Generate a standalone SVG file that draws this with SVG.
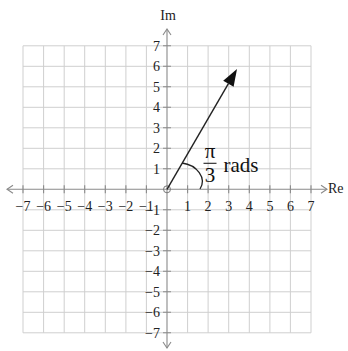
<svg xmlns="http://www.w3.org/2000/svg" width="348" height="351" viewBox="0 0 348 351">
<defs>
<style>
.grid{stroke:#cfcfcf;stroke-width:1;fill:none}
.axis{stroke:#8a8a8a;stroke-width:1.1;fill:none}
.lbl{font-family:"Liberation Serif","Times New Roman",serif;font-size:14px;fill:#222}
.ylbl{text-anchor:end}
.xlbl{text-anchor:middle}
.big{font-family:"Liberation Serif","Times New Roman",serif;font-size:21px;fill:#111}
</style>
</defs>
<rect width="348" height="351" fill="#ffffff"/>
<g id="grid">
<path class="grid" d="M23,45.8V332.8 M43.6,45.8V332.8 M64.2,45.8V332.8 M84.7,45.8V332.8 M105.3,45.8V332.8 M125.9,45.8V332.8 M146.4,45.8V332.8 M187.6,45.8V332.8 M208.1,45.8V332.8 M228.7,45.8V332.8 M249.3,45.8V332.8 M269.9,45.8V332.8 M290.4,45.8V332.8 M311,45.8V332.8 M23,45.8H311 M23,66.3H311 M23,86.8H311 M23,107.3H311 M23,127.8H311 M23,148.3H311 M23,168.8H311 M23,209.8H311 M23,230.3H311 M23,250.8H311 M23,271.3H311 M23,291.8H311 M23,312.3H311 M23,332.8H311"/>
</g>
<g id="axes">
<path class="axis" d="M7,189.3H327 M167,29V348"/>
<path class="axis" d="M13,185.3L7,189.3L13,193.3 M321,185.3L327,189.3L321,193.3 M163,35L167,29L171,35 M163,342L167,348L171,342"/>
<path class="axis" d="M163,45.8h8 M163,66.3h8 M163,86.8h8 M163,107.3h8 M163,127.8h8 M163,148.3h8 M163,168.8h8 M163,209.8h8 M163,230.3h8 M163,250.8h8 M163,271.3h8 M163,291.8h8 M163,312.3h8 M163,332.8h8 M23,185.3v8 M43.6,185.3v8 M64.2,185.3v8 M84.7,185.3v8 M105.3,185.3v8 M125.9,185.3v8 M146.4,185.3v8 M187.6,185.3v8 M208.1,185.3v8 M228.7,185.3v8 M249.3,185.3v8 M269.9,185.3v8 M290.4,185.3v8 M311,185.3v8"/>
<text class="lbl xlbl" x="168" y="20">Im</text>
<text class="lbl" x="328" y="193">Re</text>
</g>
<g id="y-labels" class="lbl ylbl">
<text x="160" y="50.8">7</text>
<text x="160" y="71.3">6</text>
<text x="160" y="91.8">5</text>
<text x="160" y="112.3">4</text>
<text x="160" y="132.8">3</text>
<text x="160" y="153.3">2</text>
<text x="160" y="173.8">1</text>
<text x="160" y="214.8">−1</text>
<text x="160" y="235.3">−2</text>
<text x="160" y="255.8">−3</text>
<text x="160" y="276.3">−4</text>
<text x="160" y="296.8">−5</text>
<text x="160" y="317.3">−6</text>
<text x="160" y="337.8">−7</text>
</g>
<g id="x-labels" class="lbl xlbl">
<text x="23" y="211">−7</text>
<text x="43.6" y="211">−6</text>
<text x="64.2" y="211">−5</text>
<text x="84.7" y="211">−4</text>
<text x="105.3" y="211">−3</text>
<text x="125.9" y="211">−2</text>
<text x="146.4" y="211">−1</text>
<text x="187.6" y="211">1</text>
<text x="208.1" y="211">2</text>
<text x="228.7" y="211">3</text>
<text x="249.3" y="211">4</text>
<text x="269.9" y="211">5</text>
<text x="290.4" y="211">6</text>
<text x="311" y="211">7</text>
</g>
<g id="vector">
<circle cx="167" cy="189.3" r="3.5" fill="none" stroke="#777" stroke-width="1"/>
<line x1="167" y1="189.3" x2="228.4" y2="83.7" stroke="#222" stroke-width="1.4"/>
<polygon points="237,69 233.6,86.7 223.2,80.7" fill="#111"/>
</g>
<g id="angle">
<path d="M182,163 C197,165 207,178 200,189" fill="none" stroke="#222" stroke-width="1.3"/>
<text class="big" x="210" y="158" text-anchor="middle">π</text>
<line x1="203.5" y1="163.3" x2="216.5" y2="163.3" stroke="#222" stroke-width="1.1"/>
<text class="big" x="210" y="181.5" text-anchor="middle">3</text>
<text class="big" x="223.5" y="172">rads</text>
</g>
</svg>
